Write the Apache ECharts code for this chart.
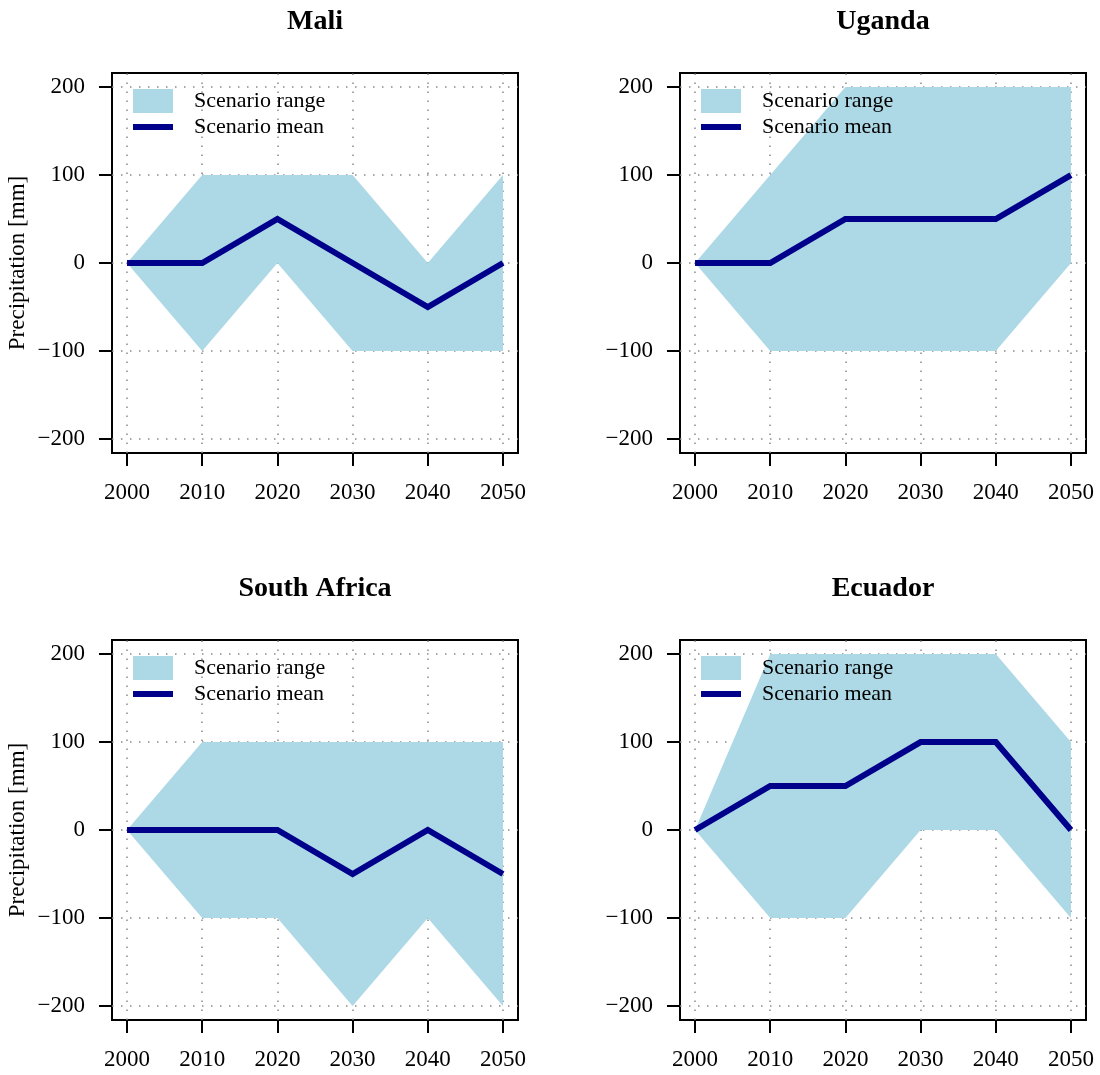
<!DOCTYPE html>
<html><head><meta charset="utf-8">
<script src="https://cdn.jsdelivr.net/npm/echarts@6/dist/echarts.min.js"></script>
<style>html,body{margin:0;padding:0;background:#fff}#c{width:1100px;height:1075px}</style>
</head><body><div id="c"></div><script>
// ---- data ----
const years = [2000, 2010, 2020, 2030, 2040, 2050];
const yTicks = [-200, -100, 0, 100, 200];
const countries = ['Mali', 'Uganda', 'South Africa', 'Ecuador'];

const maliMean  = [0, 0, 50, 0, -50, 0];
const maliUpper = [0, 100, 100, 100, 0, 100];
const maliLower = [0, -100, 0, -100, -100, -100];

const ugandaMean  = [0, 0, 50, 50, 50, 100];
const ugandaUpper = [0, 100, 200, 200, 200, 200];
const ugandaLower = [0, -100, -100, -100, -100, 0];

const southAfricaMean  = [0, 0, 0, -50, 0, -50];
const southAfricaUpper = [0, 100, 100, 100, 100, 100];
const southAfricaLower = [0, -100, -100, -200, -100, -200];

const ecuadorMean  = [0, 50, 50, 100, 100, 0];
const ecuadorUpper = [0, 200, 200, 200, 200, 100];
const ecuadorLower = [0, -100, -100, 0, 0, -100];

const means  = [maliMean, ugandaMean, southAfricaMean, ecuadorMean];
const uppers = [maliUpper, ugandaUpper, southAfricaUpper, ecuadorUpper];
const lowers = [maliLower, ugandaLower, southAfricaLower, ecuadorLower];

// ---- layout / style ----
const FONT = '"Liberation Serif", "DejaVu Serif", serif';
const panels = [
  {left: 112, top: 73},
  {left: 680, top: 73},
  {left: 112, top: 640},
  {left: 680, top: 640}
];
const PW = 406, PH = 380;
const RANGE_COLOR = '#ADD8E6';
const MEAN_COLOR = '#00008B';
const fmtY = v => (v < 0 ? '\u2212' + Math.abs(v) : String(v));

const grid = [], xAxis = [], yAxis = [], series = [], legend = [], title = [];

panels.forEach((p, i) => {
  grid.push({left: p.left, top: p.top, width: PW, height: PH, show: true,
    borderColor: '#000', borderWidth: 2, backgroundColor: 'transparent'});
  title.push({text: countries[i], left: p.left + PW / 2, top: p.top - 65, textAlign: 'center', padding: 0,
    textStyle: {fontFamily: FONT, fontSize: 28, fontWeight: 'bold', color: '#000'}});
  xAxis.push({gridIndex: i, type: 'value', min: 1998, max: 2052,
    axisLine: {show: false, onZero: false},
    axisTick: {show: true, customValues: years, length: 13, lineStyle: {color: '#000', width: 2}},
    axisLabel: {customValues: years, formatter: v => String(v), margin: 28, color: '#000', fontSize: 23, fontFamily: FONT},
    splitLine: {show: false}});
  const ya = {gridIndex: i, type: 'value', min: -216, max: 216,
    axisLine: {show: false, onZero: false},
    axisTick: {show: true, customValues: yTicks, length: 13, lineStyle: {color: '#000', width: 2}},
    axisLabel: {customValues: yTicks, formatter: fmtY, margin: 27, color: '#000', fontSize: 23, fontFamily: FONT},
    splitLine: {show: false}};
  if (i % 2 === 0) {
    ya.name = 'Precipitation [mm]';
    ya.nameLocation = 'middle';
    ya.nameGap = 83;
    ya.nameTextStyle = {fontFamily: FONT, fontSize: 23, color: '#000'};
  }
  yAxis.push(ya);

  const gridLines = years.map(v => ({xAxis: v})).concat(yTicks.map(v => ({yAxis: v})));
  const bandData = years.map((y, k) => [y, lowers[i][k], uppers[i][k]]);
  series.push({
    type: 'custom', name: 'Scenario range', xAxisIndex: i, yAxisIndex: i,
    data: bandData, encode: {x: 0, y: [1, 2]},
    itemStyle: {color: RANGE_COLOR}, color: RANGE_COLOR, silent: true, z: 2,
    renderItem: (params, api) => {
      if (params.dataIndex !== 0) return null;
      const top = bandData.map(d => api.coord([d[0], d[2]]));
      const bot = bandData.map(d => api.coord([d[0], d[1]])).reverse();
      return {type: 'polygon', shape: {points: top.concat(bot)},
        style: {fill: RANGE_COLOR, stroke: null}};
    },
    markLine: {silent: true, symbol: ['none', 'none'], z: 1, animation: false,
      label: {show: false},
      lineStyle: {color: '#8a8a8a', width: 1.5, type: [1.5, 7.5]},
      emphasis: {disabled: true},
      data: gridLines}
  });
  series.push({
    type: 'line', name: 'Scenario mean', xAxisIndex: i, yAxisIndex: i,
    data: years.map((y, k) => [y, means[i][k]]),
    symbol: 'none', color: MEAN_COLOR,
    lineStyle: {width: 6, color: MEAN_COLOR, cap: 'butt', join: 'miter'}, silent: true, z: 3
  });
  legend.push({left: p.left + 21, top: p.top + 16, orient: 'vertical',
    itemWidth: 40, itemHeight: 24, itemGap: 3, selectedMode: false, padding: 0,
    data: [{name: 'Scenario range', icon: 'rect', itemStyle: {color: RANGE_COLOR}},
           {name: 'Scenario mean', icon: 'path://M0,0H40V6H0Z'}],
    textStyle: {fontFamily: FONT, fontSize: 22, color: '#000', padding: [0, 0, 0, 16]}});
});

const chart = echarts.init(document.getElementById('c'), null, {renderer: 'canvas'});
chart.setOption({animation: false, backgroundColor: '#fff', title, grid, xAxis, yAxis, legend, series});
</script></body></html>
